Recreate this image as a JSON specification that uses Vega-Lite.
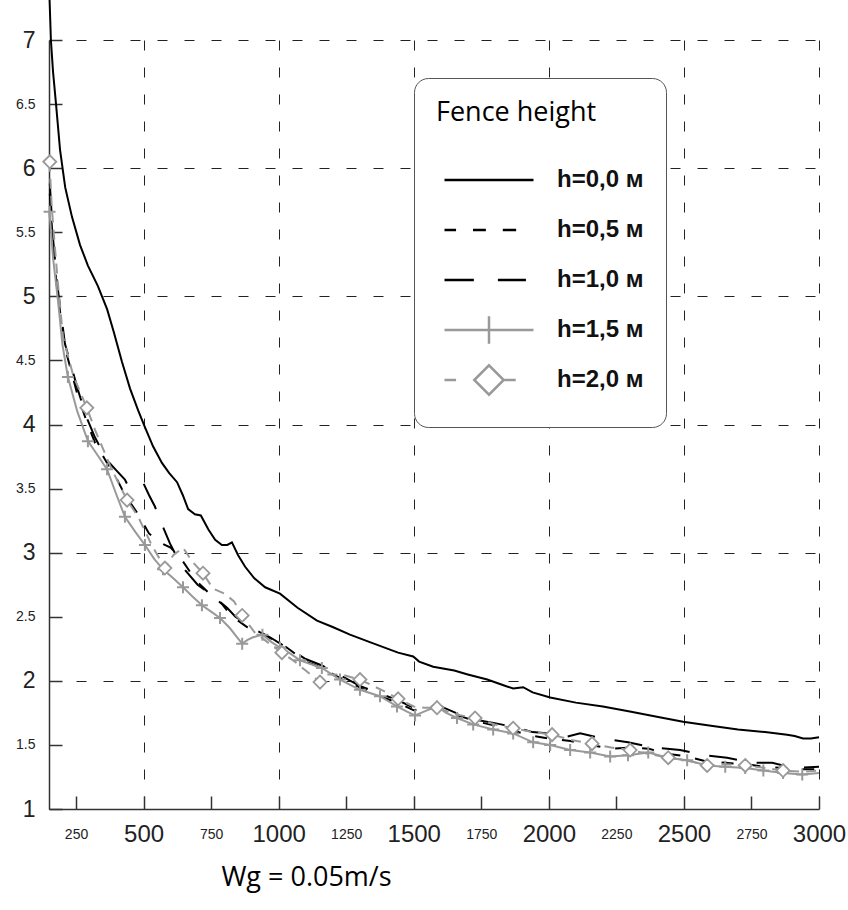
{
"$schema": "https://vega.github.io/schema/vega-lite/v6.json",
"width": 770, "height": 769,
"autosize": {"type": "none"},
"padding": {"left": 49, "top": 40, "right": 29, "bottom": 101},
"background": "white",
"datasets": {
"lines": [
{"h":"h=0,0 м","x":150,"y":7.45},{"h":"h=0,0 м","x":157,"y":7.0},{"h":"h=0,0 м","x":165,"y":6.75},{"h":"h=0,0 м","x":176,"y":6.5},{"h":"h=0,0 м","x":191,"y":6.14},{"h":"h=0,0 м","x":210,"y":5.85},{"h":"h=0,0 м","x":235,"y":5.62},{"h":"h=0,0 м","x":265,"y":5.4},{"h":"h=0,0 м","x":294,"y":5.24},{"h":"h=0,0 м","x":331,"y":5.08},{"h":"h=0,0 м","x":365,"y":4.9},{"h":"h=0,0 м","x":390,"y":4.72},{"h":"h=0,0 м","x":420,"y":4.49},{"h":"h=0,0 м","x":450,"y":4.28},{"h":"h=0,0 м","x":480,"y":4.11},{"h":"h=0,0 м","x":505,"y":3.98},{"h":"h=0,0 м","x":535,"y":3.83},{"h":"h=0,0 м","x":568,"y":3.7},{"h":"h=0,0 м","x":595,"y":3.62},{"h":"h=0,0 м","x":624,"y":3.55},{"h":"h=0,0 м","x":645,"y":3.45},{"h":"h=0,0 м","x":665,"y":3.34},{"h":"h=0,0 м","x":690,"y":3.3},{"h":"h=0,0 м","x":712,"y":3.29},{"h":"h=0,0 м","x":740,"y":3.18},{"h":"h=0,0 м","x":765,"y":3.1},{"h":"h=0,0 м","x":790,"y":3.06},{"h":"h=0,0 м","x":810,"y":3.06},{"h":"h=0,0 м","x":827,"y":3.08},{"h":"h=0,0 м","x":850,"y":2.98},{"h":"h=0,0 м","x":876,"y":2.89},{"h":"h=0,0 м","x":910,"y":2.8},{"h":"h=0,0 м","x":950,"y":2.73},{"h":"h=0,0 м","x":1005,"y":2.68},{"h":"h=0,0 м","x":1070,"y":2.57},{"h":"h=0,0 м","x":1142,"y":2.47},{"h":"h=0,0 м","x":1200,"y":2.42},{"h":"h=0,0 м","x":1264,"y":2.36},{"h":"h=0,0 м","x":1340,"y":2.3},{"h":"h=0,0 м","x":1442,"y":2.22},{"h":"h=0,0 м","x":1498,"y":2.19},{"h":"h=0,0 м","x":1520,"y":2.15},{"h":"h=0,0 м","x":1572,"y":2.11},{"h":"h=0,0 м","x":1650,"y":2.08},{"h":"h=0,0 м","x":1700,"y":2.05},{"h":"h=0,0 м","x":1772,"y":2.01},{"h":"h=0,0 м","x":1840,"y":1.96},{"h":"h=0,0 м","x":1868,"y":1.94},{"h":"h=0,0 м","x":1905,"y":1.95},{"h":"h=0,0 м","x":1940,"y":1.91},{"h":"h=0,0 м","x":2005,"y":1.87},{"h":"h=0,0 м","x":2100,"y":1.83},{"h":"h=0,0 м","x":2200,"y":1.8},{"h":"h=0,0 м","x":2300,"y":1.76},{"h":"h=0,0 м","x":2400,"y":1.72},{"h":"h=0,0 м","x":2497,"y":1.68},{"h":"h=0,0 м","x":2600,"y":1.65},{"h":"h=0,0 м","x":2700,"y":1.62},{"h":"h=0,0 м","x":2800,"y":1.6},{"h":"h=0,0 м","x":2882,"y":1.58},{"h":"h=0,0 м","x":2910,"y":1.57},{"h":"h=0,0 м","x":2941,"y":1.55},{"h":"h=0,0 м","x":2970,"y":1.55},{"h":"h=0,0 м","x":3000,"y":1.56},

{"h":"h=0,5 м","x":153,"y":5.8},{"h":"h=0,5 м","x":165,"y":5.4},{"h":"h=0,5 м","x":180,"y":5.05},{"h":"h=0,5 м","x":209,"y":4.6},{"h":"h=0,5 м","x":257,"y":4.22},{"h":"h=0,5 м","x":290,"y":4.02},{"h":"h=0,5 м","x":320,"y":3.86},{"h":"h=0,5 м","x":365,"y":3.7},{"h":"h=0,5 м","x":400,"y":3.58},{"h":"h=0,5 м","x":431,"y":3.45},{"h":"h=0,5 м","x":480,"y":3.3},{"h":"h=0,5 м","x":520,"y":3.15},{"h":"h=0,5 м","x":560,"y":3.08},{"h":"h=0,5 м","x":600,"y":3.04},{"h":"h=0,5 м","x":640,"y":2.95},{"h":"h=0,5 м","x":672,"y":2.85},{"h":"h=0,5 м","x":705,"y":2.76},{"h":"h=0,5 м","x":739,"y":2.69},{"h":"h=0,5 м","x":790,"y":2.6},{"h":"h=0,5 м","x":820,"y":2.52},{"h":"h=0,5 м","x":850,"y":2.47},{"h":"h=0,5 м","x":883,"y":2.42},{"h":"h=0,5 м","x":940,"y":2.37},{"h":"h=0,5 м","x":980,"y":2.32},{"h":"h=0,5 м","x":1030,"y":2.26},{"h":"h=0,5 м","x":1100,"y":2.15},{"h":"h=0,5 м","x":1160,"y":2.1},{"h":"h=0,5 м","x":1230,"y":2.02},{"h":"h=0,5 м","x":1300,"y":1.95},{"h":"h=0,5 м","x":1375,"y":1.88},{"h":"h=0,5 м","x":1440,"y":1.83},{"h":"h=0,5 м","x":1500,"y":1.77},{"h":"h=0,5 м","x":1550,"y":1.79},{"h":"h=0,5 м","x":1600,"y":1.78},{"h":"h=0,5 м","x":1666,"y":1.73},{"h":"h=0,5 м","x":1720,"y":1.69},{"h":"h=0,5 м","x":1800,"y":1.65},{"h":"h=0,5 м","x":1870,"y":1.61},{"h":"h=0,5 м","x":1940,"y":1.57},{"h":"h=0,5 м","x":2000,"y":1.55},{"h":"h=0,5 м","x":2080,"y":1.53},{"h":"h=0,5 м","x":2153,"y":1.5},{"h":"h=0,5 м","x":2230,"y":1.47},{"h":"h=0,5 м","x":2300,"y":1.48},{"h":"h=0,5 м","x":2370,"y":1.47},{"h":"h=0,5 м","x":2442,"y":1.43},{"h":"h=0,5 м","x":2512,"y":1.41},{"h":"h=0,5 м","x":2586,"y":1.37},{"h":"h=0,5 м","x":2653,"y":1.36},{"h":"h=0,5 м","x":2727,"y":1.35},{"h":"h=0,5 м","x":2794,"y":1.33},{"h":"h=0,5 м","x":2867,"y":1.32},{"h":"h=0,5 м","x":2938,"y":1.31},{"h":"h=0,5 м","x":3000,"y":1.31},

{"h":"h=1,0 м","x":153,"y":5.88},{"h":"h=1,0 м","x":165,"y":5.45},{"h":"h=1,0 м","x":180,"y":5.1},{"h":"h=1,0 м","x":209,"y":4.63},{"h":"h=1,0 м","x":257,"y":4.27},{"h":"h=1,0 м","x":290,"y":4.05},{"h":"h=1,0 м","x":320,"y":3.9},{"h":"h=1,0 м","x":365,"y":3.72},{"h":"h=1,0 м","x":400,"y":3.64},{"h":"h=1,0 м","x":431,"y":3.57},{"h":"h=1,0 м","x":445,"y":3.51},{"h":"h=1,0 м","x":470,"y":3.52},{"h":"h=1,0 м","x":500,"y":3.54},{"h":"h=1,0 м","x":520,"y":3.45},{"h":"h=1,0 м","x":542,"y":3.36},{"h":"h=1,0 м","x":572,"y":3.2},{"h":"h=1,0 м","x":598,"y":3.07},{"h":"h=1,0 м","x":620,"y":2.98},{"h":"h=1,0 м","x":643,"y":2.89},{"h":"h=1,0 м","x":700,"y":2.75},{"h":"h=1,0 м","x":739,"y":2.69},{"h":"h=1,0 м","x":775,"y":2.63},{"h":"h=1,0 м","x":809,"y":2.57},{"h":"h=1,0 м","x":840,"y":2.5},{"h":"h=1,0 м","x":883,"y":2.44},{"h":"h=1,0 м","x":930,"y":2.38},{"h":"h=1,0 м","x":968,"y":2.34},{"h":"h=1,0 м","x":1030,"y":2.26},{"h":"h=1,0 м","x":1100,"y":2.17},{"h":"h=1,0 м","x":1160,"y":2.12},{"h":"h=1,0 м","x":1230,"y":2.04},{"h":"h=1,0 м","x":1300,"y":1.96},{"h":"h=1,0 м","x":1375,"y":1.9},{"h":"h=1,0 м","x":1440,"y":1.85},{"h":"h=1,0 м","x":1500,"y":1.79},{"h":"h=1,0 м","x":1550,"y":1.8},{"h":"h=1,0 м","x":1590,"y":1.81},{"h":"h=1,0 м","x":1666,"y":1.74},{"h":"h=1,0 м","x":1720,"y":1.7},{"h":"h=1,0 м","x":1800,"y":1.67},{"h":"h=1,0 м","x":1870,"y":1.64},{"h":"h=1,0 м","x":1940,"y":1.6},{"h":"h=1,0 м","x":2000,"y":1.59},{"h":"h=1,0 м","x":2030,"y":1.62},{"h":"h=1,0 м","x":2060,"y":1.56},{"h":"h=1,0 м","x":2116,"y":1.59},{"h":"h=1,0 м","x":2200,"y":1.55},{"h":"h=1,0 м","x":2293,"y":1.52},{"h":"h=1,0 м","x":2386,"y":1.48},{"h":"h=1,0 м","x":2486,"y":1.46},{"h":"h=1,0 м","x":2578,"y":1.42},{"h":"h=1,0 м","x":2660,"y":1.4},{"h":"h=1,0 м","x":2756,"y":1.36},{"h":"h=1,0 м","x":2827,"y":1.36},{"h":"h=1,0 м","x":2905,"y":1.32},{"h":"h=1,0 м","x":3000,"y":1.33},

{"h":"h=1,5 м","x":152,"y":5.66},{"h":"h=1,5 м","x":165,"y":5.3},{"h":"h=1,5 м","x":183,"y":4.97},{"h":"h=1,5 м","x":200,"y":4.62},{"h":"h=1,5 м","x":220,"y":4.37},{"h":"h=1,5 м","x":255,"y":4.1},{"h":"h=1,5 м","x":294,"y":3.87},{"h":"h=1,5 м","x":330,"y":3.76},{"h":"h=1,5 м","x":365,"y":3.65},{"h":"h=1,5 м","x":400,"y":3.45},{"h":"h=1,5 м","x":431,"y":3.28},{"h":"h=1,5 м","x":470,"y":3.16},{"h":"h=1,5 м","x":505,"y":3.06},{"h":"h=1,5 м","x":540,"y":2.95},{"h":"h=1,5 м","x":572,"y":2.87},{"h":"h=1,5 м","x":610,"y":2.8},{"h":"h=1,5 м","x":646,"y":2.73},{"h":"h=1,5 м","x":680,"y":2.66},{"h":"h=1,5 м","x":716,"y":2.59},{"h":"h=1,5 м","x":750,"y":2.54},{"h":"h=1,5 м","x":783,"y":2.49},{"h":"h=1,5 м","x":820,"y":2.41},{"h":"h=1,5 м","x":850,"y":2.33},{"h":"h=1,5 м","x":865,"y":2.29},{"h":"h=1,5 м","x":885,"y":2.32},{"h":"h=1,5 м","x":905,"y":2.34},{"h":"h=1,5 м","x":940,"y":2.36},{"h":"h=1,5 м","x":975,"y":2.3},{"h":"h=1,5 м","x":1005,"y":2.26},{"h":"h=1,5 м","x":1045,"y":2.21},{"h":"h=1,5 м","x":1079,"y":2.16},{"h":"h=1,5 м","x":1160,"y":2.1},{"h":"h=1,5 м","x":1227,"y":2.01},{"h":"h=1,5 м","x":1301,"y":1.93},{"h":"h=1,5 м","x":1375,"y":1.88},{"h":"h=1,5 м","x":1438,"y":1.8},{"h":"h=1,5 м","x":1475,"y":1.76},{"h":"h=1,5 м","x":1505,"y":1.73},{"h":"h=1,5 м","x":1549,"y":1.77},{"h":"h=1,5 м","x":1586,"y":1.8},{"h":"h=1,5 м","x":1620,"y":1.75},{"h":"h=1,5 м","x":1660,"y":1.71},{"h":"h=1,5 м","x":1720,"y":1.66},{"h":"h=1,5 м","x":1794,"y":1.62},{"h":"h=1,5 м","x":1868,"y":1.59},{"h":"h=1,5 м","x":1942,"y":1.52},{"h":"h=1,5 м","x":2005,"y":1.5},{"h":"h=1,5 м","x":2079,"y":1.46},{"h":"h=1,5 м","x":2153,"y":1.44},{"h":"h=1,5 м","x":2227,"y":1.41},{"h":"h=1,5 м","x":2293,"y":1.42},{"h":"h=1,5 м","x":2368,"y":1.44},{"h":"h=1,5 м","x":2442,"y":1.4},{"h":"h=1,5 м","x":2512,"y":1.38},{"h":"h=1,5 м","x":2586,"y":1.34},{"h":"h=1,5 м","x":2653,"y":1.33},{"h":"h=1,5 м","x":2727,"y":1.32},{"h":"h=1,5 м","x":2794,"y":1.3},{"h":"h=1,5 м","x":2867,"y":1.28},{"h":"h=1,5 м","x":2938,"y":1.27},{"h":"h=1,5 м","x":3000,"y":1.28},

{"h":"h=2,0 м","x":152,"y":6.05},{"h":"h=2,0 м","x":160,"y":5.7},{"h":"h=2,0 м","x":172,"y":5.38},{"h":"h=2,0 м","x":183,"y":5.1},{"h":"h=2,0 м","x":202,"y":4.68},{"h":"h=2,0 м","x":240,"y":4.38},{"h":"h=2,0 м","x":290,"y":4.13},{"h":"h=2,0 м","x":320,"y":3.96},{"h":"h=2,0 м","x":380,"y":3.66},{"h":"h=2,0 м","x":439,"y":3.41},{"h":"h=2,0 м","x":480,"y":3.28},{"h":"h=2,0 м","x":530,"y":3.06},{"h":"h=2,0 м","x":579,"y":2.88},{"h":"h=2,0 м","x":610,"y":2.98},{"h":"h=2,0 м","x":646,"y":3.04},{"h":"h=2,0 м","x":680,"y":2.93},{"h":"h=2,0 м","x":720,"y":2.84},{"h":"h=2,0 м","x":757,"y":2.72},{"h":"h=2,0 м","x":800,"y":2.68},{"h":"h=2,0 м","x":835,"y":2.62},{"h":"h=2,0 м","x":865,"y":2.51},{"h":"h=2,0 м","x":910,"y":2.38},{"h":"h=2,0 м","x":960,"y":2.3},{"h":"h=2,0 м","x":1012,"y":2.22},{"h":"h=2,0 м","x":1060,"y":2.15},{"h":"h=2,0 м","x":1100,"y":2.08},{"h":"h=2,0 м","x":1153,"y":1.99},{"h":"h=2,0 м","x":1180,"y":2.05},{"h":"h=2,0 м","x":1230,"y":2.05},{"h":"h=2,0 м","x":1301,"y":2.01},{"h":"h=2,0 м","x":1340,"y":1.97},{"h":"h=2,0 м","x":1390,"y":1.92},{"h":"h=2,0 м","x":1442,"y":1.86},{"h":"h=2,0 м","x":1500,"y":1.8},{"h":"h=2,0 м","x":1540,"y":1.79},{"h":"h=2,0 м","x":1586,"y":1.79},{"h":"h=2,0 м","x":1650,"y":1.74},{"h":"h=2,0 м","x":1727,"y":1.71},{"h":"h=2,0 м","x":1800,"y":1.66},{"h":"h=2,0 м","x":1868,"y":1.63},{"h":"h=2,0 м","x":1940,"y":1.6},{"h":"h=2,0 м","x":2012,"y":1.58},{"h":"h=2,0 м","x":2080,"y":1.54},{"h":"h=2,0 м","x":2160,"y":1.51},{"h":"h=2,0 м","x":2230,"y":1.48},{"h":"h=2,0 м","x":2301,"y":1.46},{"h":"h=2,0 м","x":2370,"y":1.43},{"h":"h=2,0 м","x":2442,"y":1.4},{"h":"h=2,0 м","x":2510,"y":1.38},{"h":"h=2,0 м","x":2586,"y":1.34},{"h":"h=2,0 м","x":2650,"y":1.35},{"h":"h=2,0 м","x":2727,"y":1.34},{"h":"h=2,0 м","x":2800,"y":1.32},{"h":"h=2,0 м","x":2867,"y":1.3},{"h":"h=2,0 м","x":2940,"y":1.29},{"h":"h=2,0 м","x":3000,"y":1.3}
],
"markers": [
{"h":"h=1,5 м","x":152,"y":5.66},{"h":"h=1,5 м","x":220,"y":4.37},{"h":"h=1,5 м","x":294,"y":3.87},{"h":"h=1,5 м","x":365,"y":3.65},{"h":"h=1,5 м","x":431,"y":3.28},{"h":"h=1,5 м","x":505,"y":3.06},{"h":"h=1,5 м","x":572,"y":2.87},{"h":"h=1,5 м","x":646,"y":2.73},{"h":"h=1,5 м","x":716,"y":2.59},{"h":"h=1,5 м","x":783,"y":2.49},{"h":"h=1,5 м","x":865,"y":2.29},{"h":"h=1,5 м","x":940,"y":2.36},{"h":"h=1,5 м","x":1005,"y":2.26},{"h":"h=1,5 м","x":1079,"y":2.16},{"h":"h=1,5 м","x":1160,"y":2.1},{"h":"h=1,5 м","x":1227,"y":2.01},{"h":"h=1,5 м","x":1301,"y":1.93},{"h":"h=1,5 м","x":1375,"y":1.88},{"h":"h=1,5 м","x":1438,"y":1.8},{"h":"h=1,5 м","x":1505,"y":1.73},{"h":"h=1,5 м","x":1586,"y":1.8},{"h":"h=1,5 м","x":1660,"y":1.71},{"h":"h=1,5 м","x":1720,"y":1.66},{"h":"h=1,5 м","x":1794,"y":1.62},{"h":"h=1,5 м","x":1868,"y":1.59},{"h":"h=1,5 м","x":1942,"y":1.52},{"h":"h=1,5 м","x":2005,"y":1.5},{"h":"h=1,5 м","x":2079,"y":1.46},{"h":"h=1,5 м","x":2153,"y":1.44},{"h":"h=1,5 м","x":2227,"y":1.41},{"h":"h=1,5 м","x":2293,"y":1.42},{"h":"h=1,5 м","x":2368,"y":1.44},{"h":"h=1,5 м","x":2442,"y":1.4},{"h":"h=1,5 м","x":2512,"y":1.38},{"h":"h=1,5 м","x":2586,"y":1.34},{"h":"h=1,5 м","x":2653,"y":1.33},{"h":"h=1,5 м","x":2727,"y":1.32},{"h":"h=1,5 м","x":2794,"y":1.3},{"h":"h=1,5 м","x":2867,"y":1.28},{"h":"h=1,5 м","x":2938,"y":1.27},
{"h":"h=2,0 м","x":153,"y":6.05},{"h":"h=2,0 м","x":290,"y":4.13},{"h":"h=2,0 м","x":439,"y":3.41},{"h":"h=2,0 м","x":579,"y":2.88},{"h":"h=2,0 м","x":720,"y":2.84},{"h":"h=2,0 м","x":865,"y":2.51},{"h":"h=2,0 м","x":1012,"y":2.22},{"h":"h=2,0 м","x":1153,"y":1.99},{"h":"h=2,0 м","x":1301,"y":2.01},{"h":"h=2,0 м","x":1442,"y":1.86},{"h":"h=2,0 м","x":1586,"y":1.79},{"h":"h=2,0 м","x":1727,"y":1.71},{"h":"h=2,0 м","x":1868,"y":1.63},{"h":"h=2,0 м","x":2012,"y":1.58},{"h":"h=2,0 м","x":2160,"y":1.51},{"h":"h=2,0 м","x":2301,"y":1.46},{"h":"h=2,0 м","x":2442,"y":1.4},{"h":"h=2,0 м","x":2586,"y":1.34},{"h":"h=2,0 м","x":2727,"y":1.34},{"h":"h=2,0 м","x":2867,"y":1.3}
]
},
"encoding": {
"x": {"field": "x", "type": "quantitative",
  "scale": {"domain": [150, 3000], "nice": false, "zero": false},
  "axis": {"values": [250,500,750,1000,1250,1500,1750,2000,2250,2500,2750,3000], "format": "d",
    "title": "Wg = 0.05m/s", "titleFont": "Open Sans", "titleFontSize": 27, "titleFontWeight": "normal", "titleColor": "#000",
    "titleX": 257, "titleY": 68, "titleBaseline": "middle", "titleAlign": "center",
    "grid": true, "gridColor": "#222", "gridDash": [10, 17], "gridWidth": 1,
    "gridOpacity": {"condition": {"test": "datum.value % 500 === 0", "value": 1}, "value": 0},
    "domainColor": "#333", "domainWidth": 1.5, "ticks": true, "tickSize": -13, "tickColor": "#333", "tickWidth": 1.5,
    "labelFont": "Liberation Sans", "labelColor": "#222",
    "labelFontSize": {"condition": {"test": "datum.value % 500 === 0", "value": 24}, "value": 14},
    "labelPadding": 38, "labelBaseline": "middle", "labelFlush": false, "labelOverlap": false}},
"y": {"field": "y", "type": "quantitative",
  "scale": {"domain": [1, 7], "nice": false, "zero": false},
  "axis": {"values": [1,1.5,2,2.5,3,3.5,4,4.5,5,5.5,6,6.5,7], "format": "~g", "title": null,
    "grid": true, "gridColor": "#222", "gridDash": [10, 17], "gridWidth": 1,
    "gridOpacity": {"condition": {"test": "datum.value % 1 === 0", "value": 1}, "value": 0},
    "domainColor": "#333", "domainWidth": 1.5, "ticks": true, "tickSize": -13, "tickColor": "#333", "tickWidth": 1.5,
    "labelFont": "Liberation Sans", "labelColor": "#222",
    "labelFontSize": {"condition": {"test": "datum.value % 1 === 0", "value": 23}, "value": 14},
    "labelPadding": 27, "labelFlush": false, "labelOverlap": false}}
},
"layer": [
{"data": {"name": "lines"},
 "transform": [{"filter": "datum.h === 'h=0,0 м'"}],
 "mark": {"type": "line", "stroke": "#000", "strokeWidth": 2}},
{"data": {"name": "lines"},
 "transform": [{"filter": "datum.h === 'h=0,5 м'"}],
 "mark": {"type": "line", "stroke": "#000", "strokeWidth": 2, "strokeDash": [12, 15]}},
{"data": {"name": "lines"},
 "transform": [{"filter": "datum.h === 'h=1,0 м'"}],
 "mark": {"type": "line", "stroke": "#000", "strokeWidth": 2, "strokeDash": [28, 20]}},
{"data": {"name": "lines"},
 "transform": [{"filter": "datum.h === 'h=1,5 м'"}],
 "mark": {"type": "line", "stroke": "#999", "strokeWidth": 2}},
{"data": {"name": "lines"},
 "transform": [{"filter": "datum.h === 'h=2,0 м'"}],
 "mark": {"type": "line", "stroke": "#999", "strokeWidth": 2, "strokeDash": [10, 7]}},
{"data": {"name": "markers"},
 "transform": [{"filter": "datum.h === 'h=1,5 м'"}],
 "mark": {"type": "point", "shape": "M-1,0H1M0,-1V1", "size": 144, "filled": false, "stroke": "#999", "strokeWidth": 2, "opacity": 1}},
{"data": {"name": "markers"},
 "transform": [{"filter": "datum.h === 'h=2,0 м'"}],
 "mark": {"type": "point", "shape": "diamond", "size": 170, "filled": true, "fill": "white", "stroke": "#999", "strokeWidth": 1.8, "opacity": 1}},
{"data": {"name": "lines"},
 "transform": [{"filter": "datum.x < 0"}],
 "mark": {"type": "point", "filled": false},
 "encoding": {
  "color": {"field": "h", "type": "nominal",
    "scale": {"domain": ["h=0,0 м","h=0,5 м","h=1,0 м","h=1,5 м","h=2,0 м"], "range": ["#000","#000","#000","#999","#999"]},
    "legend": {"title": "Fence height"}},
  "shape": {"field": "h", "type": "nominal",
    "scale": {"domain": ["h=0,0 м","h=0,5 м","h=1,0 м","h=1,5 м","h=2,0 м"],
      "range": ["M-1,0H1", "M-1,0H-0.74M-0.36,0H-0.07M0.31,0H0.61", "M-1,0H-0.34M0.2,0H0.83", "M-1,0H1M0,-0.31V0.31", "M-1,0H-0.74M-0.33,0L0,-0.33L0.33,0L0,0.33ZM0.33,0H0.6"]},
    "legend": {"title": "Fence height"}}
 }}
],
"config": {
 "view": {"stroke": null},
 "legend": {"orient": "none", "legendX": 365, "legendY": 38, "padding": 22, "cornerRadius": 14,
   "strokeColor": "#555", "fillColor": "white",
   "titleFont": "Open Sans", "titleFontSize": 27, "titleFontWeight": "normal", "titleColor": "#000", "titlePadding": 28,
   "labelFont": "Liberation Sans", "labelFontSize": 24, "labelFontWeight": "bold", "labelColor": "#111", "labelOffset": 22,
   "symbolSize": 7921, "symbolStrokeWidth": 2.5, "symbolOffset": 7, "clipHeight": 50, "rowPadding": 0,
   "symbolFillColor": "transparent", "symbolOpacity": 1}
}
}
